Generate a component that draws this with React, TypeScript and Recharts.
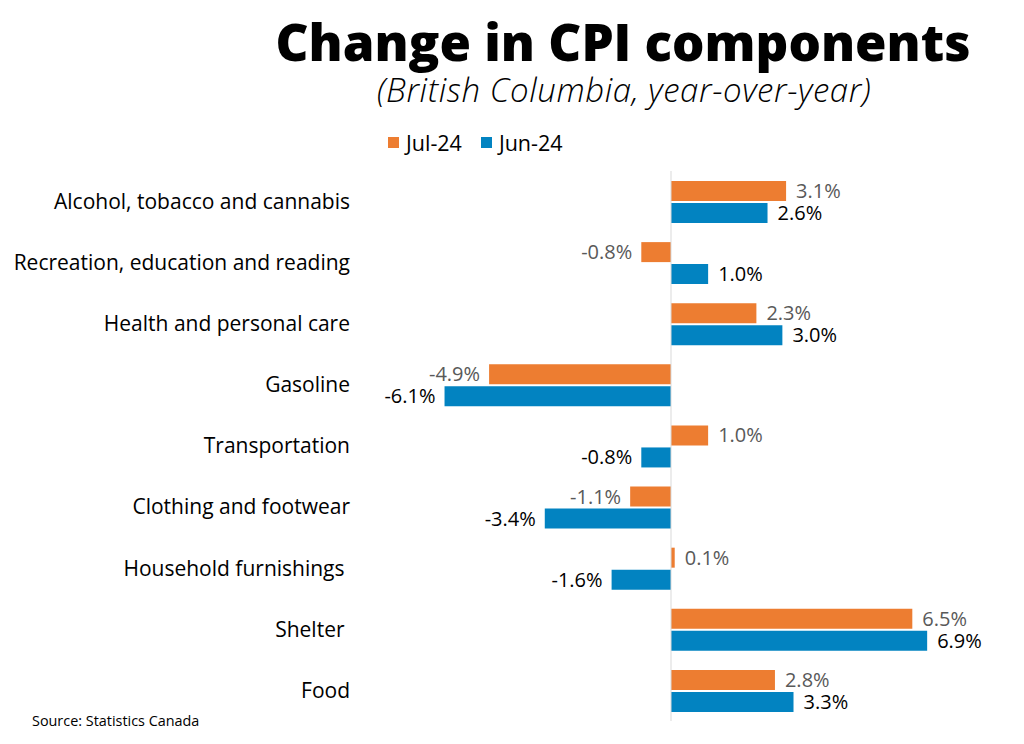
import { BarChart, Bar, XAxis, YAxis, LabelList, ReferenceLine } from 'recharts'

const categories = [
  'Alcohol, tobacco and cannabis',
  'Recreation, education and reading',
  'Health and personal care',
  'Gasoline',
  'Transportation',
  'Clothing and footwear',
  'Household furnishings ',
  'Shelter ',
  'Food',
]
const jul24 = [3.1, -0.8, 2.3, -4.9, 1.0, -1.1, 0.1, 6.5, 2.8]
const jun24 = [2.6, 1.0, 3.0, -6.1, -0.8, -3.4, -1.6, 6.9, 3.3]

const seriesNames = ['Jul-24', 'Jun-24']
const ORANGE = '#ED7D31'
const BLUE = '#0283C1'

const data = categories.map((name, i) => ({ name, jul: jul24[i], jun: jun24[i] }))

const FONT = '"Open Sans", sans-serif'

// value label sits outside the bar end: right of positives, left of negatives
function makeLabel(color: string) {
  return (props: any) => {
    const { x, y, width, height, value } = props
    const v = Number(value)
    const neg = v < 0
    const tx = neg ? Math.min(x, x + width) - 9 : Math.max(x, x + width) + 10
    return (
      <text
        x={tx}
        y={y + height / 2}
        dy="0.35em"
        textAnchor={neg ? 'end' : 'start'}
        fill={color}
        fontFamily={FONT}
        fontSize={20}
      >
        {v.toFixed(1)}%
      </text>
    )
  }
}

function CategoryTick(props: any) {
  const { x, y, payload } = props
  const label = String(payload.value).replace(/ $/, '\u00a0')
  return (
    <text x={x} y={y} dy="0.35em" textAnchor="end" fill="#000" fontFamily={FONT} fontSize={21}>
      {label}
    </text>
  )
}

function LegendRow() {
  const colors = [ORANGE, BLUE]
  return (
    <div style={{ position: 'absolute', left: 388, top: 128, display: 'flex', fontFamily: FONT, fontSize: 21.5, color: '#000' }}>
      {seriesNames.map((n, i) => (
        <div key={n} style={{ display: 'flex', alignItems: 'center', marginRight: 19 }}>
          <span style={{ width: 11, height: 11, background: colors[i], display: 'inline-block', marginRight: 7 }} />
          <span>{n}</span>
        </div>
      ))}
    </div>
  )
}

export default function App() {
  return (
    <div style={{ position: 'absolute', left: 0, top: 0, width: 1024, height: 744, background: '#fff' }}>
      <div
        style={{
          position: 'absolute', left: 0, width: 1246, top: 14, textAlign: 'center',
          fontFamily: FONT, fontWeight: 800, fontSize: 51, color: '#000', lineHeight: '54px',
        }}
      >
        Change in CPI components
      </div>
      <div
        style={{
          position: 'absolute', left: 0, width: 1248, top: 70, textAlign: 'center',
          fontFamily: FONT, fontStyle: 'italic', fontWeight: 300, fontSize: 33, letterSpacing: 0.6,
          color: '#000', lineHeight: '40px',
        }}
      >
        (British Columbia, year-over-year)
      </div>
      <LegendRow />
      <BarChart
        width={1024}
        height={744}
        data={data}
        layout="vertical"
        margin={{ top: 171, right: 56, bottom: 23, left: 0 }}
        barGap={2}
        barSize={20}
      >
        <XAxis type="number" domain={[-8, 8]} hide />
        <YAxis
          type="category"
          dataKey="name"
          width={374}
          axisLine={false}
          tickLine={false}
          tickSize={0}
          tickMargin={24}
          tick={<CategoryTick />}
          interval={0}
        />
        <ReferenceLine x={0} stroke="#D9D9D9" strokeWidth={1} />
        <Bar dataKey="jul" name={seriesNames[0]} fill={ORANGE} isAnimationActive={false}>
          <LabelList dataKey="jul" content={makeLabel('#595959')} />
        </Bar>
        <Bar dataKey="jun" name={seriesNames[1]} fill={BLUE} isAnimationActive={false}>
          <LabelList dataKey="jun" content={makeLabel('#000')} />
        </Bar>
      </BarChart>
      <div style={{ position: 'absolute', left: 32, top: 711, fontFamily: FONT, fontSize: 14.4, color: '#000' }}>
        Source: Statistics Canada
      </div>
    </div>
  )
}
